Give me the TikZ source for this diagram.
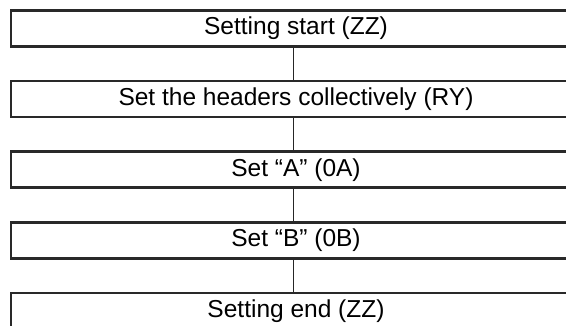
\documentclass[tikz,border=0pt]{standalone}
\usepackage{fontspec}
\setmainfont{Liberation Sans}
\begin{document}
\begin{tikzpicture}[x=1pt,y=1pt,
  stepbox/.style={draw=black!84, line width=2.6pt, rectangle, minimum width=570pt,
    minimum height=36pt, inner sep=0pt, font=\fontsize{24.5}{29}\selectfont, text=black},
  link/.style={draw=black!85, line width=1pt}]
\path[use as bounding box] (0,0) rectangle (566,325);
\clip (0,0) rectangle (566,325);
\node[stepbox] (s1) at (296,296.5) {Setting start (ZZ)};
\node[stepbox] (s2) at (296,225.9) {Set the headers collectively (RY)};
\node[stepbox] (s3) at (296,155.3) {Set “A” (0A)};
\node[stepbox] (s4) at (296,84.7) {Set “B” (0B)};
\node[stepbox] (s5) at (296,14.1) {Setting end (ZZ)};
\foreach \a/\b in {s1/s2,s2/s3,s3/s4,s4/s5}
  \draw[link] ([xshift=-3pt]\a.south) -- ([xshift=-3pt]\b.north);
\end{tikzpicture}
\end{document}
